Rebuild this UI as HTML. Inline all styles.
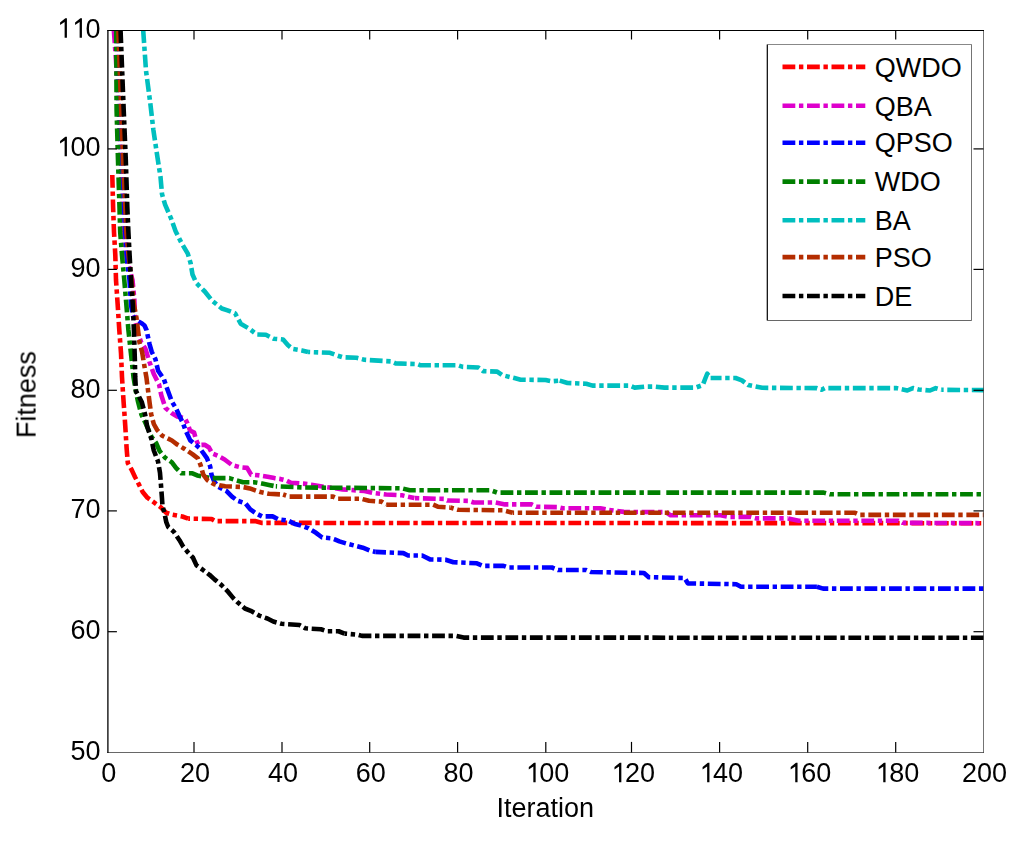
<!DOCTYPE html>
<html><head><meta charset="utf-8"><title>Fitness vs Iteration</title>
<style>html,body{margin:0;padding:0;background:#fff;}body{width:1024px;height:847px;overflow:hidden;}svg{display:block;}g.t{opacity:0.999;}text{font-family:"Liberation Sans",sans-serif;}</style></head><body>
<svg width="1024" height="847" viewBox="0 0 1024 847">
<rect x="0" y="0" width="1024" height="847" fill="#fff"/>
<defs><clipPath id="pc"><rect x="107.9" y="30" width="876.1" height="722.5"/></clipPath></defs>
<g clip-path="url(#pc)" fill="none" stroke-width="4.6" stroke-linecap="butt" stroke-linejoin="round" stroke-dasharray="12.8 3.65 4.4 3.65">
<path d="M112.3 175 L113.1 207 L114 232 L115.3 255 L116 280 L117.7 305 L119.3 330 L121 353 L122 377 L122.8 390 L123.6 402 L124.5 414.5 L125.2 425 L126.6 448 L127.8 463 L131.5 469.5 L135 477 L138.9 484.4 L142.7 492 L147.4 497.7 L154 502.4 L160.6 507.1 L166.3 512.8 L171.9 514.7 L182.3 516.5 L188.2 518.6" stroke="#ff0000" stroke-dashoffset="0"/>
<path d="M188.2 518.6 L211.7 519 L215.2 521.1 L255 521.1 L262.1 522.9 L983.5 523.2" stroke="#ff0000" stroke-dashoffset="10.99"/>
<path d="M113.85 30.4 L116 60 L118.5 110 L121 170 L123.5 230 L127 260 L132.5 280 L134.4 300 L134.8 315 L135.8 323 L138 334 L141.3 342.5 L145.3 348.5 L149.6 362.3 L153.8 374 L159.1 384.6 L161.3 395.3 L165.5 408 L171.9 413.3 L177.2 416.5 L184.9 418.3 L187.5 423.5 L190 430.5 L194.1 432.6 L195.9 439.3 L198.4 445 L204.7 444.7 L209 447.5 L212.2 453.5 L218.2 456 L224.6 459.5 L232 465.1 L240.2 467.2 L247.1 467.9 L251.2 474.7 L259.4 475.4 L267.6 476.7 L274.4 478.1 L280 478.9 L286.25 480.5 L290.9 482.8 L303.4 483.6 L311.25 484.7 L320.6 486.25 L342.5 489.4 L364.4 491 L373.75 493 L386.25 494.5 L401.9 495.3 L414.4 498.1" stroke="#de00cc" stroke-dashoffset="0"/>
<path d="M414.4 498.1 L444 498.9 L447.2 500.5 L469 500.9 L473.75 502.5 L495.6 502.5 L505 504.4 L531.6 504.4 L536.25 506.7 L558.1 507.2 L562.8 508.3 L600.3 508.3 L608.1 509.8 L623.75 511.9 L666 512.2 L670.6 515.3 L720.6 515.3 L728.4 516.9 L750.3 516.9 L756.6 518.4 L787.8 518.4" stroke="#de00cc" stroke-dashoffset="15.98"/>
<path d="M787.8 518.4 L798.75 520.8 L898.3 520.8 L902.6 522.8 L983.5 523.2" stroke="#de00cc" stroke-dashoffset="24.2"/>
<path d="M116.6 30.4 L118.6 100 L121.8 170 L124.5 220 L127 260 L129.5 280 L131 305 L133 316 L137.6 321 L142 323.5 L144.5 325.5 L146.5 330 L148 337 L149.6 344.3 L151.7 351.7 L155.4 359.1 L158.1 370.8 L163.9 379.3 L167.6 390 L171.9 401.6 L175.7 407.8 L180.3 417.7 L183.1 423.4 L185.3 429.8 L190.2 440.4 L195.2 444.3 L199.8 448.2 L206.9 458.1 L210.2 466.5 L211.5 474.7 L214.3 481.5 L218.4 487 L226.6 491.1 L232 496.6 L237.5 500.7 L245.6 503.5 L250.3 509.4 L256.2 513.5 L262.1 516.4 L272.6 516.4 L278.5 519.3 L287.9 520.5 L294.9 524 L300 525.2 L308.1 528.1 L316 532.8 L322.2 537.5 L331.6 538.3 L334.7 539.4 L339.4 541.4 L347.2 543.75 L356.6 546.1 L362.8 547.7 L370.6 550.8 L375.3 551.9" stroke="#0000ff" stroke-dashoffset="0"/>
<path d="M375.3 551.9 L403.4 553.1 L408.1 555.5 L422.2 555.5 L430 559.4 L445.6 559.7 L453.4 562.2 L476.9 563.3 L483.1 565.9 L503.4 565.8 L508.1 567.5 L551.9 567.5 L558.1 570 L586.25 570 L590.9 572 L644 573 L648.75 577.2 L684.7 578 L687.8 583.4 L736.25 584.2 L741 586.7 L816.9 586.7" stroke="#0000ff" stroke-dashoffset="2.1"/>
<path d="M816.9 586.7 L823.1 588.6 L983.5 588.6" stroke="#0000ff" stroke-dashoffset="1.12"/>
<path d="M116.2 30.4 L116.6 110 L118 160 L119.5 207 L120.2 232 L122 255 L124.3 280 L126.4 305 L128.4 330 L130.9 353 L133.5 377 L136 392 L138.1 402 L141.4 414.5 L145.6 423.3 L151.4 436.5 L156.2 443.2 L159.6 451 L165 457.6 L171.9 462.4 L176 467.9 L181.4 473.3 L192.4 473.3 L197.2 475.4 L210.2 478.1 L229.3 478.1 L236.1 480.2 L243 482.2 L253.9 482.2 L262.1 483.6 L268.9 485 L275.8 486.3" stroke="#007f00" stroke-dashoffset="0"/>
<path d="M275.8 486.3 L303.4 487.5 L401.9 488.3 L409.7 490.3 L490.9 490.3 L497.2 492.6 L663.5 492.6" stroke="#007f00" stroke-dashoffset="19.57"/>
<path d="M663.5 492.6 L823.75 492.6 L830 494.3 L983.5 494.3" stroke="#007f00" stroke-dashoffset="21.7"/>
<path d="M143.2 30.2 L146 70.6 L150.2 102.5 L153.4 130.1 L157.2 155.7 L160.5 176.9 L162 194 L165.1 204.6 L170.8 217.8 L175.5 231 L181.2 242.4 L187.8 253.7 L190.6 263.2 L192.5 274.5 L196.3 283 L204.8 291.5 L212.4 301 L221.8 308.5 L227.5 310.4 L235.1 313.3 L240.7 323.7 L250.2 329.3 L256.6 334.4 L265.9 334.8 L273.75 338.75 L283.1 339.5 L287.8 345 L292.5 348.9 L301.9 350.5 L308.1 352" stroke="#00bfbf" stroke-dashoffset="0"/>
<path d="M308.1 352 L330 352.8 L336.25 355.2 L342.5 357.2 L356.6 357.8 L364.4 359.8 L390.9 361.4 L395.6 363.4 L417.5 364.1 L420.6 365.3 L458.1 365.3 L462.8 366.9 L478.4 367.5 L483.1 371.1 L497.2 371.6 L501.9 375 L514.4 378.1 L520.6 379.7 L545.6 380 L551.9 381.25 L559.7 380.6" stroke="#00bfbf" stroke-dashoffset="10.75"/>
<path d="M559.7 380.6 L567.5 383 L586.25 383.75 L592.5 385.6 L630 385.6 L634.7 387.6 L645 386.6 L655 386.6 L664.4 387.6 L695.6 387.6 L702.8 385 L705.2 378.75 L707.2 373.75 L710.6 378" stroke="#00bfbf" stroke-dashoffset="0.76"/>
<path d="M710.6 378 L735.6 378 L741.9 380.3 L748.1 385 L762.2 387.8 L816.9 388.1 L821.6 389.7 L824.7 388.1 L896 388.1 L907.3 390.5 L913 388.1 L918.7 389.5 L930 390.5 L935.7 388.1 L941.3 389.8" stroke="#00bfbf" stroke-dashoffset="1.84"/>
<path d="M941.3 389.8 L983.5 390.1" stroke="#00bfbf" stroke-dashoffset="18.5"/>
<path d="M118.4 30.4 L121.2 110 L123 160 L125.3 207 L126.3 232 L128.5 255 L131.5 280 L134 305 L136.5 318 L138 330 L139.5 342.5 L142.1 352 L144.3 365.5 L146.4 377.3 L148 390 L149.6 402.7 L151.2 414.4 L153.8 424 L157.1 429.9 L162.2 435.7 L171.9 440.5 L177.3 444.6 L184.2 448.7 L192.4 454.2 L197.9 458.3 L200.6 465.1 L203.3 474.7 L207.4 480.2 L214.3 484.3 L225.2 486.3 L243 487 L249.8 488.4 L259.4 491.8 L268.9 493.8 L283.1 494.5" stroke="#b42d00" stroke-dashoffset="0"/>
<path d="M283.1 494.5 L289.4 496.6 L333.1 496.6 L337.8 498.75 L361.25 498.75 L369 500.8 L381.6 501.6 L386.25 504.7" stroke="#b42d00" stroke-dashoffset="17.66"/>
<path d="M386.25 504.7 L433.1 504.7 L437.8 506.7 L450.3 507.5" stroke="#b42d00" stroke-dashoffset="2.05"/>
<path d="M450.3 507.5 L458.1 509.8 L503.4 510.3 L512.8 512.8" stroke="#b42d00" stroke-dashoffset="17.37"/>
<path d="M512.8 512.8 L855 512.8 L859.7 514.9 L983.5 514.9" stroke="#b42d00" stroke-dashoffset="11.5"/>
<path d="M120.55 30.4 L123.7 110 L125.8 160 L127.3 207 L128.4 232 L129.6 255 L131 280 L132.8 305 L133.9 330 L134.8 357.5 L135.2 377 L136 391 L141.8 402 L145.1 414.5 L147.2 426.6 L151.4 439 L153.8 450.5 L158 461.3 L160 472.9 L161 485.4 L162 498.6 L162.5 506.2 L164.4 512.8 L166.3 522.2 L168.2 527 L173.8 531.7 L179.5 540.2 L183.3 546.8 L188 552.4 L193 557.7 L196.5 565.4 L202.4 569.5 L209.5 574.8 L214.8 579.6 L221.3 584.9 L227.2 590.8 L233.1 597.9 L237.9 602.6 L244.9 608.5 L250.8 610.8 L259.1 615.6 L267.4 618.5 L273.3 621.5 L281.5 623.8 L299.5 625 L305.4 628.3 L321 629.3 L326.9 631.25 L338.6 631.25 L344.5 633.6" stroke="#000000" stroke-dashoffset="0"/>
<path d="M344.5 633.6 L358.1 634.8 L362 635.9 L455.8 635.9 L463.6 637.6 L983.5 637.8" stroke="#000000" stroke-dashoffset="10.21"/>
</g>
<g fill="none" stroke="#000">
<line x1="107.9" y1="29.9" x2="107.9" y2="753" stroke-width="1.3"/>
<line x1="107.3" y1="30.5" x2="984" y2="30.5" stroke-width="1.1"/>
<line x1="107.3" y1="752.5" x2="983.8" y2="752.5" stroke-width="0.6"/>
<line x1="983.5" y1="30.5" x2="983.5" y2="752.8" stroke-width="0.55"/>
<line x1="194" y1="752.5" x2="194" y2="741.9" stroke-width="1.2"/>
<line x1="194" y1="30.5" x2="194" y2="39.5" stroke-width="1.2"/>
<line x1="282" y1="752.5" x2="282" y2="741.9" stroke-width="1.2"/>
<line x1="282" y1="30.5" x2="282" y2="39.5" stroke-width="1.2"/>
<line x1="369.7" y1="752.5" x2="369.7" y2="741.9" stroke-width="1.2"/>
<line x1="369.7" y1="30.5" x2="369.7" y2="39.5" stroke-width="1.2"/>
<line x1="457.6" y1="752.5" x2="457.6" y2="741.9" stroke-width="1.2"/>
<line x1="457.6" y1="30.5" x2="457.6" y2="39.5" stroke-width="1.2"/>
<line x1="545.8" y1="752.5" x2="545.8" y2="741.9" stroke-width="1.2"/>
<line x1="545.8" y1="30.5" x2="545.8" y2="39.5" stroke-width="1.2"/>
<line x1="631.5" y1="752.5" x2="631.5" y2="741.9" stroke-width="1.2"/>
<line x1="631.5" y1="30.5" x2="631.5" y2="39.5" stroke-width="1.2"/>
<line x1="719.6" y1="752.5" x2="719.6" y2="741.9" stroke-width="1.2"/>
<line x1="719.6" y1="30.5" x2="719.6" y2="39.5" stroke-width="1.2"/>
<line x1="807.7" y1="752.5" x2="807.7" y2="741.9" stroke-width="1.2"/>
<line x1="807.7" y1="30.5" x2="807.7" y2="39.5" stroke-width="1.2"/>
<line x1="895.7" y1="752.5" x2="895.7" y2="741.9" stroke-width="1.2"/>
<line x1="895.7" y1="30.5" x2="895.7" y2="39.5" stroke-width="1.2"/>
<line x1="107.9" y1="148.9" x2="116.9" y2="148.9" stroke-width="1.2"/>
<line x1="983.5" y1="148.9" x2="973.5" y2="148.9" stroke-width="1.2"/>
<line x1="107.9" y1="269.4" x2="116.9" y2="269.4" stroke-width="1.2"/>
<line x1="983.5" y1="269.4" x2="973.5" y2="269.4" stroke-width="1.2"/>
<line x1="107.9" y1="390.3" x2="116.9" y2="390.3" stroke-width="1.2"/>
<line x1="983.5" y1="390.3" x2="973.5" y2="390.3" stroke-width="1.2"/>
<line x1="107.9" y1="510.9" x2="116.9" y2="510.9" stroke-width="1.2"/>
<line x1="983.5" y1="510.9" x2="973.5" y2="510.9" stroke-width="1.2"/>
<line x1="107.9" y1="631.7" x2="116.9" y2="631.7" stroke-width="1.2"/>
<line x1="983.5" y1="631.7" x2="973.5" y2="631.7" stroke-width="1.2"/>
</g>
<g class="t" font-size="27" fill="#000" font-family="Liberation Sans, sans-serif">
<text x="101.3" y="782.3">0</text>
<text x="179.99" y="782.3">2</text><text x="195" y="782.3">0</text>
<text x="267.99" y="782.3">4</text><text x="283" y="782.3">0</text>
<text x="355.69" y="782.3">6</text><text x="370.7" y="782.3">0</text>
<text x="443.59" y="782.3">8</text><text x="458.6" y="782.3">0</text>
<path d="M533.33 782.3 L535.63 782.3 L535.63 762.8 L534.03 762.8 L528.78 767 L528.78 769.6 L533.33 766.4Z" fill="#000"/><text x="539.29" y="782.3">0</text><text x="554.3" y="782.3">0</text>
<path d="M619.03 782.3 L621.34 782.3 L621.34 762.8 L619.74 762.8 L614.49 767 L614.49 769.6 L619.03 766.4Z" fill="#000"/><text x="625" y="782.3">2</text><text x="640" y="782.3">0</text>
<path d="M707.13 782.3 L709.44 782.3 L709.44 762.8 L707.84 762.8 L702.59 767 L702.59 769.6 L707.13 766.4Z" fill="#000"/><text x="713.1" y="782.3">4</text><text x="728.11" y="782.3">0</text>
<path d="M795.24 782.3 L797.54 782.3 L797.54 762.8 L795.94 762.8 L790.69 767 L790.69 769.6 L795.24 766.4Z" fill="#000"/><text x="801.2" y="782.3">6</text><text x="816.21" y="782.3">0</text>
<path d="M883.24 782.3 L885.54 782.3 L885.54 762.8 L883.94 762.8 L878.69 767 L878.69 769.6 L883.24 766.4Z" fill="#000"/><text x="889.2" y="782.3">8</text><text x="904.21" y="782.3">0</text>
<text x="961.99" y="782.3">2</text><text x="977" y="782.3">0</text><text x="992" y="782.3">0</text>
<path d="M64.62 37.8 L66.92 37.8 L66.92 18.3 L65.32 18.3 L60.07 22.5 L60.07 25.1 L64.62 21.9Z" fill="#000"/><path d="M79.63 37.8 L81.93 37.8 L81.93 18.3 L80.33 18.3 L75.08 22.5 L75.08 25.1 L79.63 21.9Z" fill="#000"/><text x="85.59" y="37.8">0</text>
<path d="M64.62 156.3 L66.92 156.3 L66.92 136.8 L65.32 136.8 L60.07 141 L60.07 143.6 L64.62 140.4Z" fill="#000"/><text x="70.58" y="156.3">0</text><text x="85.59" y="156.3">0</text>
<text x="70.58" y="276.8">9</text><text x="85.59" y="276.8">0</text>
<text x="70.58" y="397.7">8</text><text x="85.59" y="397.7">0</text>
<text x="70.58" y="518.3">7</text><text x="85.59" y="518.3">0</text>
<text x="70.58" y="639.1">6</text><text x="85.59" y="639.1">0</text>
<text x="70.58" y="759.7">5</text><text x="85.59" y="759.7">0</text>
<text x="545.2" y="817.1" text-anchor="middle">Iteration</text>
<text transform="translate(35.6 394.6) rotate(-90)" text-anchor="middle">Fitness</text>
</g>
<rect x="767.5" y="44.5" width="204" height="276" fill="#fff" stroke="none"/>
<g fill="none">
<line x1="767.3" y1="44.5" x2="767.3" y2="320.5" stroke="#000" stroke-width="1.2"/>
<line x1="767.5" y1="44.5" x2="971.5" y2="44.5" stroke="#000" stroke-width="0.47"/>
<line x1="971.5" y1="44.5" x2="971.5" y2="320.5" stroke="#000" stroke-width="0.55"/>
<line x1="767.5" y1="320.5" x2="971.5" y2="320.5" stroke="#000" stroke-width="0.6"/>
</g>
<g fill="none" stroke-width="4.6" stroke-dasharray="12.8 3.65 4.4 3.65">
<line x1="782.5" y1="66.9" x2="865.3" y2="66.9" stroke="#ff0000"/>
<line x1="782.5" y1="105.8" x2="865.3" y2="105.8" stroke="#de00cc"/>
<line x1="782.5" y1="142.7" x2="865.3" y2="142.7" stroke="#0000ff"/>
<line x1="782.5" y1="181.6" x2="865.3" y2="181.6" stroke="#007f00"/>
<line x1="782.5" y1="220.3" x2="865.3" y2="220.3" stroke="#00bfbf"/>
<line x1="782.5" y1="257.1" x2="865.3" y2="257.1" stroke="#b42d00"/>
<line x1="782.5" y1="296" x2="865.3" y2="296" stroke="#000000"/>
</g>
<g class="t" font-size="27" fill="#000" font-family="Liberation Sans, sans-serif">
<text x="874.8" y="76.6">QWDO</text>
<text x="874.8" y="115.5">QBA</text>
<text x="874.8" y="152.4">QPSO</text>
<text x="874.8" y="191.3">WDO</text>
<text x="874.8" y="230">BA</text>
<text x="874.8" y="266.8">PSO</text>
<text x="874.8" y="305.7">DE</text>
</g>
</svg></body></html>
